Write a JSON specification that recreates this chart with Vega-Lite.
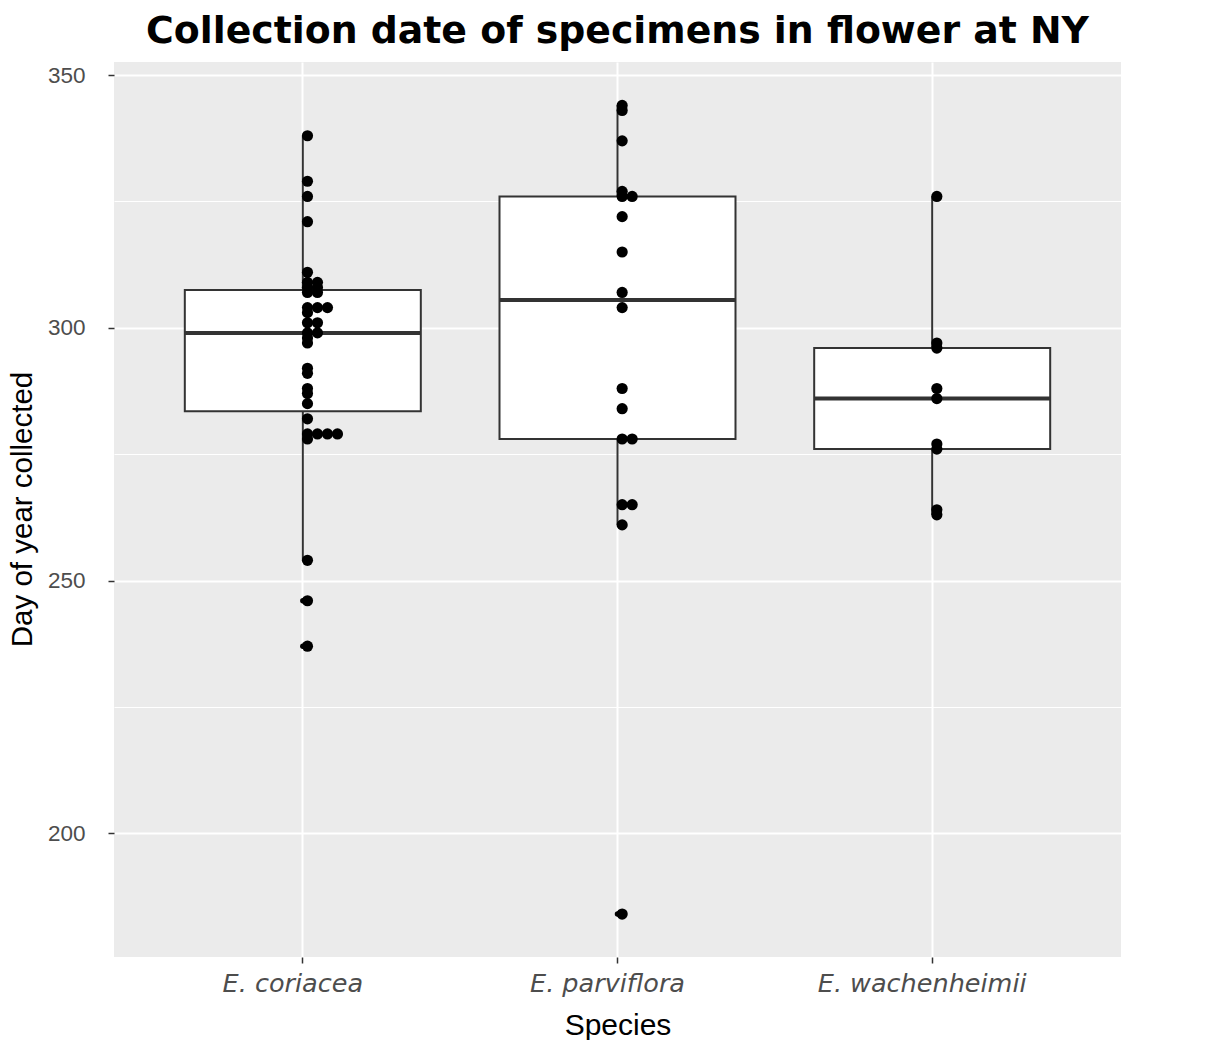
{
  "$schema": "https://vega.github.io/schema/vega-lite/v6.json",
  "width": 1007,
  "height": 895,
  "autosize": "none",
  "padding": {"left": 114, "top": 62, "right": 98, "bottom": 83},
  "background": "white",
  "title": {
    "text": "Collection date of specimens in flower at NY",
    "font": "DejaVu Sans",
    "fontSize": 37.8,
    "fontWeight": "bold",
    "color": "black",
    "anchor": "middle",
    "frame": "group",
    "baseline": "bottom",
    "offset": 14,
    "dy": 41
  },
  "data": {
    "values": [
      {"species": "E. coriacea", "day": 338},
      {"species": "E. coriacea", "day": 329},
      {"species": "E. coriacea", "day": 326},
      {"species": "E. coriacea", "day": 321},
      {"species": "E. coriacea", "day": 311},
      {"species": "E. coriacea", "day": 309},
      {"species": "E. coriacea", "day": 309},
      {"species": "E. coriacea", "day": 308},
      {"species": "E. coriacea", "day": 308},
      {"species": "E. coriacea", "day": 307},
      {"species": "E. coriacea", "day": 307},
      {"species": "E. coriacea", "day": 304},
      {"species": "E. coriacea", "day": 304},
      {"species": "E. coriacea", "day": 304},
      {"species": "E. coriacea", "day": 303},
      {"species": "E. coriacea", "day": 301},
      {"species": "E. coriacea", "day": 301},
      {"species": "E. coriacea", "day": 299},
      {"species": "E. coriacea", "day": 299},
      {"species": "E. coriacea", "day": 298},
      {"species": "E. coriacea", "day": 297},
      {"species": "E. coriacea", "day": 292},
      {"species": "E. coriacea", "day": 291},
      {"species": "E. coriacea", "day": 288},
      {"species": "E. coriacea", "day": 287},
      {"species": "E. coriacea", "day": 285},
      {"species": "E. coriacea", "day": 282},
      {"species": "E. coriacea", "day": 279},
      {"species": "E. coriacea", "day": 279},
      {"species": "E. coriacea", "day": 279},
      {"species": "E. coriacea", "day": 279},
      {"species": "E. coriacea", "day": 278},
      {"species": "E. coriacea", "day": 254},
      {"species": "E. coriacea", "day": 246},
      {"species": "E. coriacea", "day": 237},
      {"species": "E. parviflora", "day": 344},
      {"species": "E. parviflora", "day": 343},
      {"species": "E. parviflora", "day": 337},
      {"species": "E. parviflora", "day": 327},
      {"species": "E. parviflora", "day": 326},
      {"species": "E. parviflora", "day": 326},
      {"species": "E. parviflora", "day": 322},
      {"species": "E. parviflora", "day": 315},
      {"species": "E. parviflora", "day": 307},
      {"species": "E. parviflora", "day": 304},
      {"species": "E. parviflora", "day": 288},
      {"species": "E. parviflora", "day": 284},
      {"species": "E. parviflora", "day": 278},
      {"species": "E. parviflora", "day": 278},
      {"species": "E. parviflora", "day": 265},
      {"species": "E. parviflora", "day": 265},
      {"species": "E. parviflora", "day": 261},
      {"species": "E. parviflora", "day": 184},
      {"species": "E. wachenheimii", "day": 326},
      {"species": "E. wachenheimii", "day": 297},
      {"species": "E. wachenheimii", "day": 296},
      {"species": "E. wachenheimii", "day": 288},
      {"species": "E. wachenheimii", "day": 286},
      {"species": "E. wachenheimii", "day": 277},
      {"species": "E. wachenheimii", "day": 276},
      {"species": "E. wachenheimii", "day": 264},
      {"species": "E. wachenheimii", "day": 263}
    ]
  },
  "encoding": {
    "x": {
      "field": "species",
      "type": "nominal",
      "sort": ["E. coriacea", "E. parviflora", "E. wachenheimii"],
      "scale": {"paddingInner": 0, "paddingOuter": 0.1},
      "axis": {
        "title": "Species",
        "titleFont": "Liberation Sans",
        "titleFontSize": 30,
        "titleFontWeight": "normal",
        "titleColor": "black",
        "titleBaseline": "alphabetic",
        "titleY": 77,
        "labelAngle": 0,
        "labelFont": "DejaVu Sans",
        "labelFontStyle": "italic",
        "labelFontSize": 25.5,
        "labelLimit": 0,
        "labelColor": "#4D4D4D",
        "labelBaseline": "alphabetic",
        "labelPadding": 28,
        "labelOffset": -10,
        "tickSize": 6,
        "tickColor": "#333333",
        "tickWidth": 1.5,
        "domain": false,
        "grid": true,
        "gridColor": "white",
        "gridWidth": 2
      }
    },
    "y": {
      "field": "day",
      "type": "quantitative",
      "scale": {"domain": [175.5, 352.6], "nice": false, "zero": false},
      "axis": {
        "title": "Day of year collected",
        "titleFont": "Liberation Sans",
        "titleFontSize": 29.5,
        "titleFontWeight": "normal",
        "titleColor": "black",
        "titleAngle": -90,
        "titleX": -92,
        "titleY": 447,
        "titleAlign": "center",
        "titleBaseline": "middle",
        "values": [200, 225, 250, 275, 300, 325, 350],
        "labelExpr": "datum.value % 50 === 0 ? datum.label : ''",
        "labelFont": "Liberation Sans",
        "labelFontSize": 22.5,
        "labelColor": "#4D4D4D",
        "labelPadding": 23,
        "tickSize": 6,
        "tickColor": "#333333",
        "tickWidth": 1.5,
        "tickOpacity": {"condition": {"test": "datum.value % 50 === 0", "value": 1}, "value": 0},
        "domain": false,
        "grid": true,
        "gridColor": "white",
        "gridWidth": {"condition": {"test": "datum.value % 50 === 0", "value": 2}, "value": 1}
      }
    }
  },
  "layer": [
    {
      "mark": {
        "type": "boxplot",
        "extent": 1.5,
        "size": 236,
        "box": {"fill": "white", "stroke": "#333333", "strokeWidth": 2, "opacity": 1},
        "median": {"color": "#333333", "thickness": 4, "opacity": 1},
        "rule": {"color": "#333333", "strokeWidth": 2},
        "outliers": {"color": "black", "size": 30, "filled": true, "opacity": 1}
      }
    },
    {
      "transform": [
        {"window": [{"op": "row_number", "as": "k"}], "groupby": ["species", "day"]}
      ],
      "mark": {"type": "circle", "size": 125, "color": "black", "opacity": 1},
      "encoding": {
        "xOffset": {
          "field": "k",
          "type": "quantitative",
          "scale": {"domain": [1, 11], "range": [162, 262]}
        }
      }
    }
  ],
  "config": {
    "view": {"fill": "#EBEBEB", "stroke": null}
  }
}
